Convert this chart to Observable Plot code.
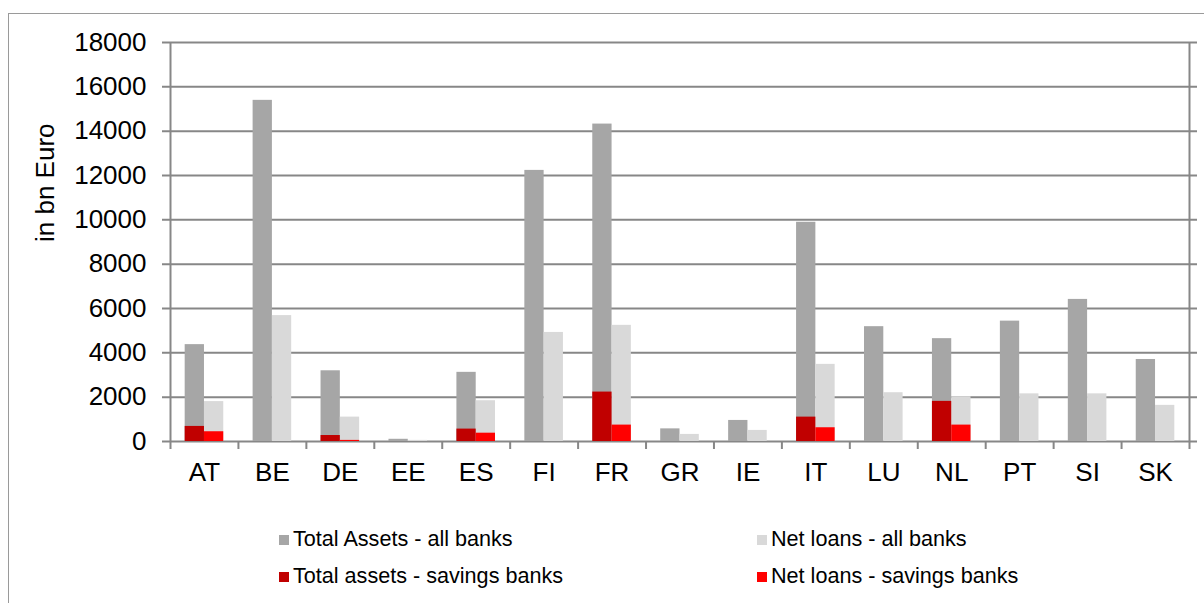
<!DOCTYPE html>
<html>
<head>
<meta charset="utf-8">
<script src="https://cdn.jsdelivr.net/npm/d3@7"></script>
<script src="https://cdn.jsdelivr.net/npm/@observablehq/plot@0.6"></script>
<style>
  html, body { margin: 0; padding: 0; background: #fff; overflow: hidden; }
  body { width: 1204px; height: 603px; position: relative; font-family: "Liberation Sans", Arial, sans-serif; }
  #border { position: absolute; left: 8px; top: 13px; width: 1400px; height: 800px; border-left: 1.5px solid #9a9a9a; border-top: 1.5px solid #9a9a9a; }
  #chart { position: absolute; left: 0; top: 0; }
  .lg { position: absolute; font-size: 21.6px; color: #000; white-space: nowrap; line-height: 24px; }
  .sw { display: inline-block; width: 10px; height: 10px; margin-right: 4px; vertical-align: 1px; }
</style>
</head>
<body>
<div id="border"></div>
<div id="chart"></div>
<div id="legend"></div>
<script>
const countries = ["AT","BE","DE","EE","ES","FI","FR","GR","IE","IT","LU","NL","PT","SI","SK"];
const totalAssetsAll = [4370, 15390, 3190, 100, 3120, 12230, 14320, 570, 950, 9890, 5180, 4640, 5430, 6410, 3700];
const netLoansAll    = [1800, 5680, 1100, 50, 1840, 4920, 5240, 320, 500, 3480, 2200, 2020, 2150, 2150, 1630];
const totalAssetsSav = [680, 0, 270, 0, 560, 0, 2230, 0, 0, 1100, 0, 1810, 0, 0, 0];
const netLoansSav    = [440, 0, 50, 0, 375, 0, 740, 0, 0, 620, 0, 740, 0, 0, 0];
const yTicks = [0, 2000, 4000, 6000, 8000, 10000, 12000, 14000, 16000, 18000];
const seriesNames = ["Total Assets - all banks", "Net loans - all banks", "Total assets - savings banks", "Net loans - savings banks"];
const seriesColors = ["#a6a6a6", "#d9d9d9", "#c00000", "#ff0000"];

const table = countries.map((c, i) => ({
  country: c,
  totalAll: totalAssetsAll[i],
  loansAll: netLoansAll[i],
  totalSav: totalAssetsSav[i],
  loansSav: netLoansSav[i]
}));

const W = 1204, H = 500, ML = 170, MR = 15, MT = 42, MB = 59;
const step = (W - ML - MR) / countries.length;
const barFrac = 0.284;
const half = step * barFrac / 2;
const axisColor = "#878787";

const plot = Plot.plot({
  width: W, height: H,
  marginLeft: ML, marginRight: MR, marginTop: MT, marginBottom: MB,
  style: { fontFamily: "'Liberation Sans', Arial, sans-serif", fontSize: "26px", color: "#000", background: "transparent", overflow: "visible" },
  x: { domain: countries, paddingInner: 1 - barFrac, paddingOuter: (1 - barFrac) / 2, round: false, axis: null, label: null },
  y: { domain: [0, 18000], axis: null, label: null },
  marks: [
    Plot.ruleY(yTicks, { stroke: axisColor, strokeWidth: 2, insetLeft: -8, insetRight: -8 }),
    Plot.ruleX([countries[0]], { x: d => d, y1: 0, y2: 18000, dx: -step / 2, stroke: axisColor, strokeWidth: 2 }),
    Plot.ruleX([countries[countries.length - 1]], { x: d => d, y1: 0, y2: 18000, dx: step / 2, stroke: axisColor, strokeWidth: 2 }),
    Plot.axisX(countries, { tickSize: 8, tickFormat: () => "", label: null, dx: -step / 2, stroke: axisColor, strokeWidth: 2 }),
    Plot.axisX([countries[countries.length - 1]], { tickSize: 8, tickFormat: () => "", label: null, dx: step / 2, stroke: axisColor, strokeWidth: 2 }),
    Plot.barY(table, { x: "country", y: "totalAll", fill: seriesColors[0], dx: -half }),
    Plot.barY(table, { x: "country", y: "loansAll", fill: seriesColors[1], dx: half }),
    Plot.barY(table.filter(d => d.totalSav > 0), { x: "country", y: "totalSav", fill: seriesColors[2], dx: -half }),
    Plot.barY(table.filter(d => d.loansSav > 0), { x: "country", y: "loansSav", fill: seriesColors[3], dx: half }),
    Plot.axisY(yTicks, { tickSize: 0, tickPadding: 24, fontSize: 26, label: null, tickFormat: d => String(d) }),
    Plot.text(countries, { x: d => d, frameAnchor: "bottom", dy: 31, fontSize: 26, lineAnchor: "middle" }),
    Plot.text(["in bn Euro"], { frameAnchor: "left", dx: -125, rotate: -90, fontSize: 26 })
  ]
});
document.getElementById("chart").appendChild(plot);

const legendPos = [[279, 527], [757, 527], [279, 564], [757, 564]];
const lg = document.getElementById("legend");
seriesNames.forEach((name, i) => {
  const d = document.createElement("div");
  d.className = "lg";
  d.style.left = legendPos[i][0] + "px";
  d.style.top = legendPos[i][1] + "px";
  const s = document.createElement("span");
  s.className = "sw";
  s.style.background = seriesColors[i];
  d.appendChild(s);
  d.appendChild(document.createTextNode(name));
  lg.appendChild(d);
});
</script>
</body>
</html>
